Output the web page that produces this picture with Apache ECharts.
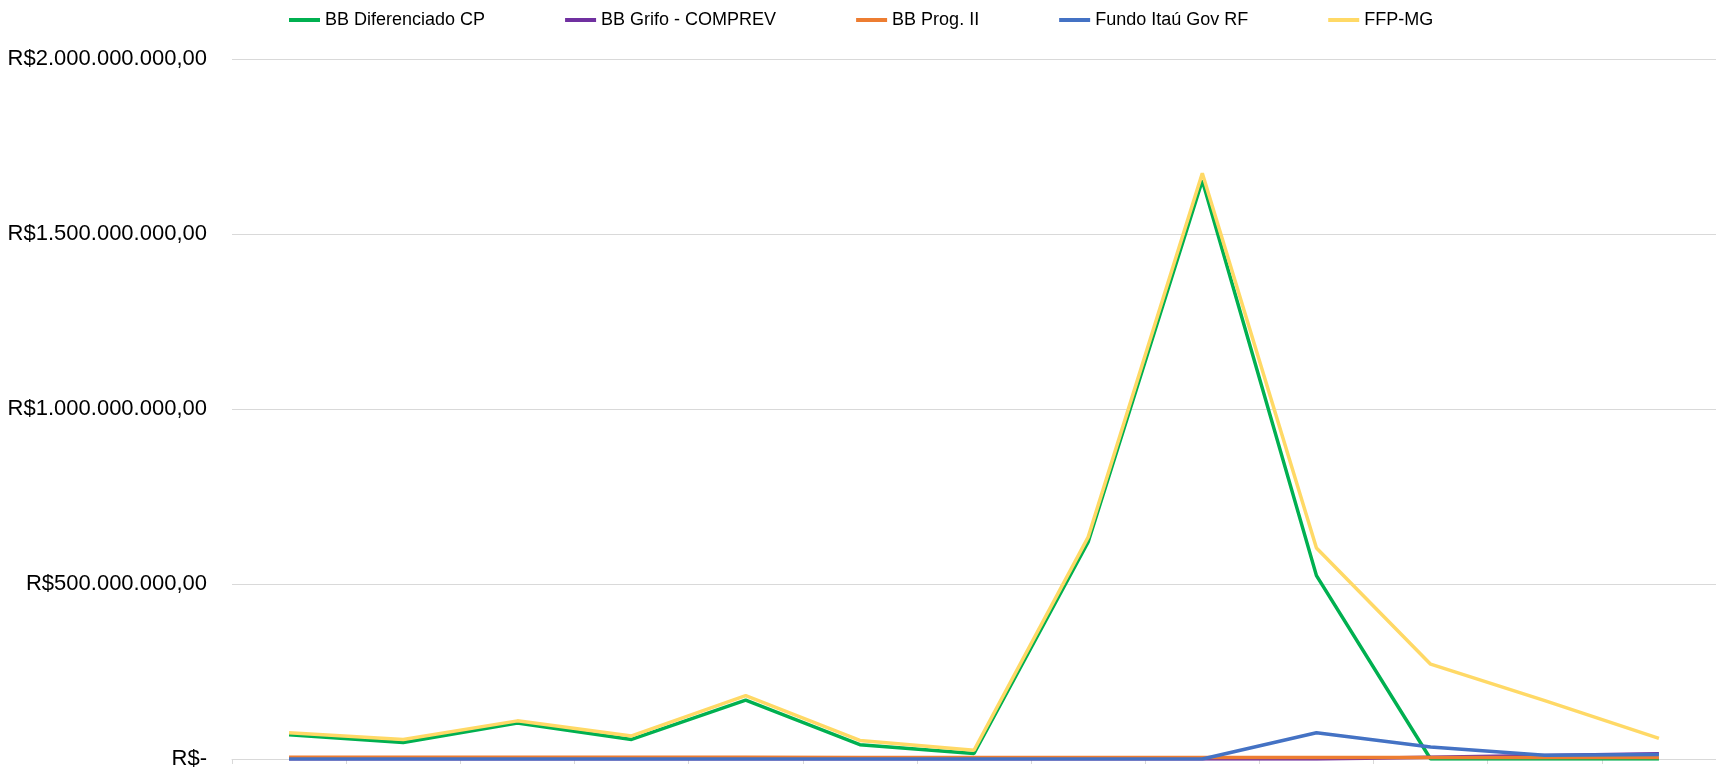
<!DOCTYPE html>
<html>
<head>
<meta charset="utf-8">
<script src="https://cdn.jsdelivr.net/npm/echarts@6/dist/echarts.min.js"></script>
<style>
html,body{margin:0;padding:0;background:#fff;}
#chart{width:1716px;height:770px;}
</style>
</head>
<body>
<div id="chart"></div>
<script>
// Categories (x-axis has no visible labels in the reference)
const categories = ['1','2','3','4','5','6','7','8','9','10','11','12','13'];

// Series values (R$)
const bbDiferenciado = [69e6, 47e6, 103e6, 56e6, 168e6, 41e6, 16e6, 620e6, 1653e6, 524e6, 0, 0, 0];
const bbGrifo        = [0, 0, 0, 0, 0, 0, 0, 0, 0, 0, 5e6, 10e6, 15e6];
const bbProg         = [5e6, 5e6, 5e6, 5e6, 5e6, 4e6, 4e6, 4e6, 4e6, 4e6, 4e6, 4e6, 4e6];
const fundoItau      = [0, 0, 0, 0, 0, 0, 0, 0, 0, 75e6, 34e6, 11e6, 13e6];
const ffpMg          = [75e6, 56e6, 109e6, 66e6, 181e6, 53e6, 25e6, 634e6, 1674e6, 603e6, 271e6, 167e6, 59e6];

// Y tick values and labels
const yTicks = [0, 500000000, 1000000000, 1500000000, 2000000000];
const yTickLabels = ['R$-', 'R$500.000.000,00', 'R$1.000.000.000,00', 'R$1.500.000.000,00', 'R$2.000.000.000,00'];

const seriesNames = ['BB Diferenciado CP', 'BB Grifo - COMPREV', 'BB Prog. II', 'Fundo Itaú Gov RF', 'FFP-MG'];
const seriesColors = ['#00B050', '#7030A0', '#ED7D31', '#4472C4', '#FFD966'];
const seriesData = [bbDiferenciado, bbGrifo, bbProg, fundoItau, ffpMg];

const FONT = "'Liberation Sans', Arial, sans-serif";

const chart = echarts.init(document.getElementById('chart'), null, {renderer: 'canvas'});
chart.setOption({
  animation: false,
  backgroundColor: '#ffffff',
  legend: {
    left: 289,
    top: 11,
    padding: 0,
    itemGap: 80,
    itemWidth: 31,
    itemHeight: 4,
    icon: 'rect',
    textStyle: {fontFamily: FONT, fontSize: 18, color: '#000'},
    data: seriesNames
  },
  grid: {
    left: 232,
    top: 59.1,
    width: 1501.5,
    bottom: 9.4,
    containLabel: false
  },
  xAxis: {
    type: 'category',
    data: categories,
    boundaryGap: true,
    axisLine: {show: true, lineStyle: {color: '#d9d9d9', width: 1}},
    axisTick: {show: true, length: 5, lineStyle: {color: '#d9d9d9'}},
    axisLabel: {show: false},
    splitLine: {show: false}
  },
  yAxis: {
    type: 'value',
    min: yTicks[0],
    max: yTicks[yTicks.length - 1],
    interval: yTicks[1] - yTicks[0],
    axisLine: {show: false},
    axisTick: {show: false},
    axisLabel: {
      margin: 25,
      fontFamily: FONT,
      fontSize: 22,
      color: '#000',
      formatter: function (v) {
        const i = yTicks.indexOf(v);
        return i >= 0 ? yTickLabels[i] : '';
      }
    },
    splitLine: {show: true, lineStyle: {color: '#d9d9d9', width: 1}}
  },
  series: seriesNames.map(function (name, i) {
    return {
      name: name,
      type: 'line',
      data: seriesData[i],
      showSymbol: false,
      symbol: 'none',
      color: seriesColors[i],
      lineStyle: {width: 3.5, color: seriesColors[i]},
      itemStyle: {color: seriesColors[i]}
    };
  })
});
</script>
</body>
</html>
